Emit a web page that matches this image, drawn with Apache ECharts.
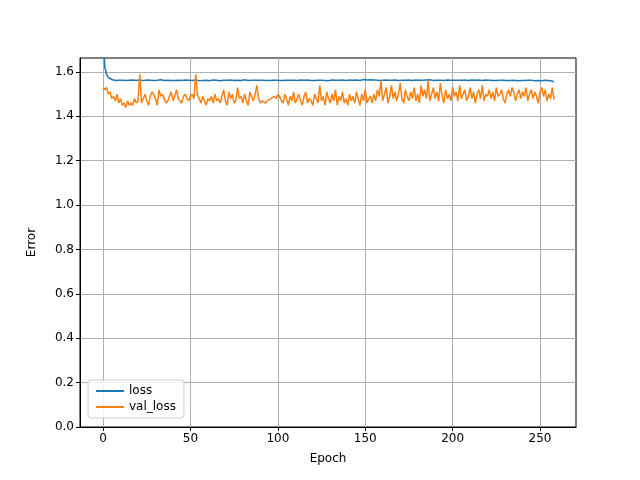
<!DOCTYPE html>
<html>
<head>
<meta charset="utf-8">
<script src="https://cdn.jsdelivr.net/npm/echarts@6/dist/echarts.min.js"></script>
<style>html,body{margin:0;padding:0;background:#fff}#chart{width:640px;height:480px}</style>
</head>
<body>
<div id="chart"></div>
<script>
var lossValues = [
1.78,1.62,1.59,1.575,1.570,1.566,1.565,1.562,1.564,1.563,1.561,1.563,1.564,1.562,1.560,1.563,1.562,1.564,1.561,1.562,
1.563,1.565,1.562,1.561,1.563,1.564,1.562,1.563,1.561,1.562,1.564,1.563,1.562,1.565,1.563,1.562,1.561,1.563,1.564,1.562,
1.563,1.562,1.564,1.563,1.561,1.562,1.563,1.564,1.562,1.563,1.565,1.562,1.563,1.564,1.562,1.561,1.563,1.562,1.564,1.563,
1.562,1.561,1.563,1.564,1.562,1.563,1.562,1.560,1.562,1.563,1.564,1.563,1.562,1.564,1.563,1.562,1.561,1.563,1.564,1.562,
1.563,1.565,1.563,1.562,1.564,1.563,1.562,1.563,1.566,1.563,1.562,1.563,1.564,1.562,1.563,1.562,1.564,1.563,1.562,1.563,
1.564,1.562,1.563,1.562,1.564,1.563,1.562,1.563,1.561,1.563,1.564,1.562,1.563,1.564,1.562,1.563,1.562,1.564,1.563,1.562,
1.563,1.562,1.564,1.563,1.562,1.563,1.564,1.562,1.563,1.561,1.563,1.564,1.562,1.563,1.565,1.563,1.562,1.564,1.563,1.562,
1.563,1.564,1.562,1.563,1.565,1.564,1.563,1.562,1.564,1.566,1.563,1.564,1.562,1.565,1.563,1.564,1.562,1.563,1.564,1.562,
1.563,1.564,1.562,1.563,1.565,1.563,1.562,1.564,1.563,1.562,1.564,1.563,1.565,1.563,1.562,1.564,1.563,1.562,1.563,1.564,
1.562,1.563,1.564,1.563,1.562,1.564,1.563,1.565,1.563,1.562,1.564,1.563,1.562,1.563,1.564,1.562,1.563,1.564,1.562,1.563,
1.564,1.563,1.562,1.563,1.565,1.563,1.562,1.564,1.563,1.562,1.563,1.564,1.562,1.563,1.562,1.564,1.563,1.562,1.563,1.564,
1.562,1.563,1.564,1.562,1.563,1.562,1.564,1.563,1.562,1.563,1.564,1.562,1.563,1.562,1.564,1.563,1.562,1.561,1.563,1.562,
1.563,1.562,1.564,1.563,1.562,1.563,1.562,1.561,1.563,1.562,1.561,1.560,1.562,1.563,1.561,1.562,1.560,1.558,1.556
];
var valLossValues = [
1.53,1.52,1.53,1.50,1.51,1.48,1.49,1.47,1.50,1.46,1.48,1.45,1.46,1.44,1.47,1.45,1.46,1.45,1.48,1.46,
1.47,1.59,1.46,1.48,1.50,1.47,1.45,1.49,1.51,1.50,1.48,1.45,1.52,1.49,1.50,1.48,1.46,1.47,1.49,1.51,
1.47,1.49,1.52,1.48,1.47,1.46,1.49,1.50,1.48,1.47,1.49,1.50,1.48,1.59,1.50,1.48,1.46,1.49,1.47,1.45,
1.48,1.47,1.49,1.46,1.50,1.47,1.48,1.46,1.49,1.52,1.47,1.45,1.51,1.48,1.50,1.46,1.47,1.53,1.48,1.49,
1.46,1.50,1.47,1.45,1.51,1.49,1.47,1.50,1.54,1.48,1.46,1.47,1.47,1.46,1.47,1.47,1.48,1.48,1.49,1.48,
1.50,1.49,1.47,1.46,1.50,1.48,1.45,1.49,1.47,1.51,1.46,1.48,1.50,1.47,1.45,1.49,1.51,1.46,1.48,1.47,
1.45,1.50,1.48,1.46,1.54,1.47,1.49,1.45,1.51,1.48,1.46,1.50,1.47,1.52,1.45,1.49,1.47,1.51,1.46,1.48,
1.45,1.50,1.47,1.49,1.46,1.51,1.48,1.45,1.50,1.47,1.52,1.46,1.48,1.49,1.46,1.50,1.47,1.52,1.49,1.56,
1.47,1.50,1.53,1.46,1.49,1.54,1.48,1.51,1.47,1.50,1.55,1.48,1.46,1.52,1.49,1.47,1.51,1.48,1.53,1.47,
1.50,1.46,1.54,1.49,1.52,1.48,1.56,1.47,1.50,1.53,1.48,1.51,1.47,1.55,1.49,1.46,1.52,1.48,1.50,1.47,
1.53,1.49,1.51,1.47,1.54,1.48,1.50,1.52,1.47,1.49,1.53,1.48,1.51,1.46,1.50,1.52,1.48,1.54,1.47,1.50,
1.49,1.52,1.48,1.51,1.47,1.53,1.49,1.50,1.52,1.48,1.46,1.50,1.52,1.49,1.53,1.51,1.47,1.50,1.52,1.48,
1.51,1.49,1.53,1.47,1.50,1.52,1.48,1.51,1.49,1.46,1.51,1.53,1.49,1.52,1.47,1.50,1.48,1.53,1.475
];
var xTicks = [0, 50, 100, 150, 200, 250];
var yTicks = [0, 0.2, 0.4, 0.6, 0.8, 1.0, 1.2, 1.4, 1.6];

function pairs(vals) {
    return vals.map(function (v, i) { return [i, v]; });
}

var chart = echarts.init(document.getElementById('chart'));
var font = 'DejaVu Sans';
var option = {
    animation: false,
    textStyle: { fontFamily: font },
    grid: { left: 80, right: 64, top: 58, bottom: 53, show: true, borderColor: '#000', borderWidth: 1 },
    legend: {
        left: 88, bottom: 62, orient: 'vertical',
        backgroundColor: 'rgba(255,255,255,0.8)', borderColor: '#ccc', borderWidth: 1, borderRadius: 3,
        padding: [5, 8], itemGap: 4, itemWidth: 28, itemHeight: 2,
        textStyle: { fontSize: 12, color: '#000' },
        icon: 'rect',
        data: ['loss', 'val_loss']
    },
    xAxis: {
        type: 'value', min: -13.2, max: 270.6,
        name: 'Epoch', nameLocation: 'middle', nameGap: 26,
        nameTextStyle: { fontSize: 12, color: '#000' },
        axisLine: { onZero: false, lineStyle: { color: '#000' } },
        axisTick: { customValues: xTicks, length: 4, lineStyle: { color: '#000' } },
        axisLabel: { customValues: xTicks, color: '#000', fontSize: 12, margin: 6 },
        splitLine: { show: true, lineStyle: { color: '#b0b0b0', width: 1 } }
    },
    yAxis: {
        type: 'value', min: 0, max: 1.663,
        name: 'Error', nameLocation: 'middle', nameGap: 42,
        nameTextStyle: { fontSize: 12, color: '#000' },
        axisLine: { show: true, onZero: false, lineStyle: { color: '#000' } },
        axisTick: { show: true, customValues: yTicks, length: 4, lineStyle: { color: '#000' } },
        axisLabel: { customValues: yTicks, color: '#000', fontSize: 12, margin: 6,
            formatter: function (v) { return v.toFixed(1); } },
        splitLine: { show: true, lineStyle: { color: '#b0b0b0', width: 1 } }
    },
    series: [
        { name: 'loss', type: 'line', data: pairs(lossValues), showSymbol: false,
          lineStyle: { color: '#1f77b4', width: 1.5 }, itemStyle: { color: '#1f77b4' }, clip: true },
        { name: 'val_loss', type: 'line', data: pairs(valLossValues), showSymbol: false,
          lineStyle: { color: '#ff7f0e', width: 1.5 }, itemStyle: { color: '#ff7f0e' }, clip: true }
    ]
};
chart.setOption(option);
window.onresize = chart.resize;
</script>
</body>
</html>
